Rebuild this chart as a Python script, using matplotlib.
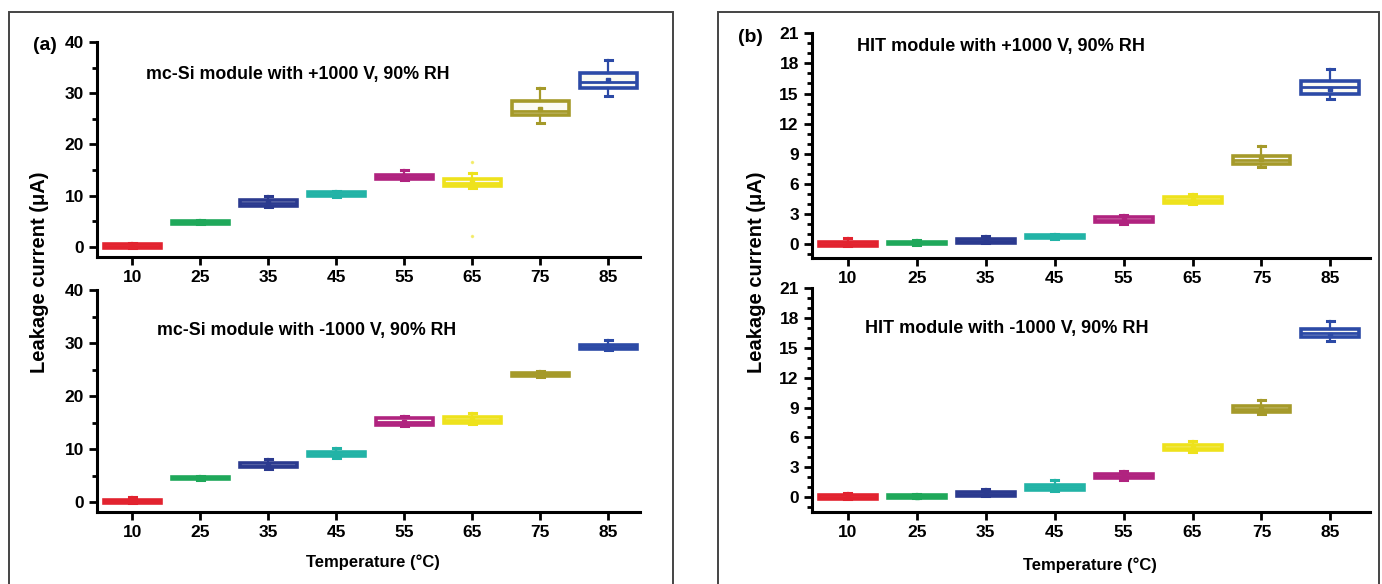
import numpy as np
import matplotlib.pyplot as plt
from matplotlib.patches import Rectangle
from matplotlib.ticker import MultipleLocator

plt.rcParams['font.family'] = ['Liberation Sans', 'DejaVu Sans']
plt.rcParams['font.weight'] = 'bold'

# temperature categories
temps = ['10', '25', '35', '45', '55', '65', '75', '85']
colors = ['#e2232f', '#1fa85a', '#2b3a8f', '#22b3a6', '#b0237f', '#eee21c', '#a59a2a', '#2c4aa6']

# (a) mc-Si, +1000 V
a_pos_q1 = [-0.2, 4.5, 8.0, 9.9, 13.2, 11.9, 25.8, 31.0]
a_pos_med = [0.2, 4.8, 8.6, 10.3, 13.6, 12.5, 26.5, 32.2]
a_pos_q3 = [0.5, 5.0, 9.2, 10.6, 14.0, 13.2, 28.5, 34.0]
a_pos_lo = [-0.3, 4.4, 7.8, 9.8, 13.0, 11.5, 24.2, 29.5]
a_pos_hi = [0.8, 5.2, 10.0, 10.9, 15.0, 14.5, 31.0, 36.5]
a_pos_mean = [0.2, 4.8, 8.7, 10.3, 13.8, 12.6, 27.0, 32.5]
a_pos_out = [[], [], [], [], [], [16.5, 2.0], [], []]

# (a) mc-Si, -1000 V
a_neg_q1 = [-0.1, 4.3, 6.6, 8.7, 14.6, 15.0, 23.8, 29.0]
a_neg_med = [0.2, 4.5, 6.9, 9.1, 15.1, 15.5, 24.1, 29.3]
a_neg_q3 = [0.4, 4.7, 7.3, 9.5, 15.9, 16.1, 24.4, 29.7]
a_neg_lo = [-0.2, 4.2, 6.3, 8.4, 14.3, 14.8, 23.6, 28.8]
a_neg_hi = [1.0, 5.0, 8.1, 10.2, 16.3, 16.9, 24.8, 30.6]
a_neg_mean = [0.3, 4.5, 7.0, 9.2, 15.2, 15.6, 24.1, 29.5]

# (b) HIT, +1000 V
b_pos_q1 = [-0.15, 0.0, 0.15, 0.6, 2.2, 4.1, 8.0, 15.0]
b_pos_med = [0.0, 0.1, 0.3, 0.75, 2.4, 4.4, 8.4, 15.6]
b_pos_q3 = [0.2, 0.25, 0.5, 0.9, 2.65, 4.7, 8.8, 16.2]
b_pos_lo = [-0.2, -0.1, 0.1, 0.5, 2.0, 4.0, 7.7, 14.5]
b_pos_hi = [0.6, 0.4, 0.8, 1.0, 2.9, 5.0, 9.8, 17.4]
b_pos_mean = [0.05, 0.1, 0.35, 0.75, 2.45, 4.4, 8.5, 15.4]

# (b) HIT, -1000 V
b_neg_q1 = [-0.15, -0.05, 0.15, 0.75, 1.9, 4.7, 8.6, 16.1]
b_neg_med = [0.0, 0.05, 0.3, 1.0, 2.1, 4.95, 8.9, 16.5]
b_neg_q3 = [0.2, 0.2, 0.5, 1.2, 2.35, 5.2, 9.2, 16.9]
b_neg_lo = [-0.2, -0.1, 0.1, 0.6, 1.7, 4.5, 8.3, 15.7]
b_neg_hi = [0.4, 0.3, 0.8, 1.7, 2.6, 5.6, 9.8, 17.7]
b_neg_mean = [0.05, 0.05, 0.35, 1.0, 2.1, 4.95, 8.9, 16.3]


def draw_boxes(ax, q1, med, q3, lo, hi, mean, out=None):
    for i in range(len(temps)):
        st = dict(q1=q1[i], med=med[i], q3=q3[i], whislo=lo[i], whishi=hi[i],
                  mean=mean[i], fliers=out[i] if out else [])
        c = colors[i]
        ax.bxp([st], positions=[i + 1], widths=0.84, patch_artist=True,
               showmeans=True, showfliers=True,
               boxprops=dict(facecolor='#fbfbf4', edgecolor=c, linewidth=2.6),
               medianprops=dict(color=c, linewidth=2.0),
               whiskerprops=dict(color=c, linewidth=1.6),
               capprops=dict(color=c, linewidth=2.2),
               capwidths=0.1,
               meanprops=dict(marker='s', markersize=3.5, markerfacecolor=c,
                              markeredgecolor=c),
               flierprops=dict(marker='.', markersize=3, markerfacecolor=c,
                               markeredgecolor=c, alpha=0.5))


def style_axes(ax, ymax, major, minor, xmax):
    ax.set_xlim(0.48, xmax)
    for s in ['top', 'right']:
        ax.spines[s].set_visible(False)
    for s in ['left', 'bottom']:
        ax.spines[s].set_linewidth(2.2)
    ax.set_xticks(range(1, len(temps) + 1))
    ax.set_xticklabels(temps)
    ax.set_yticks(np.arange(0, ymax + 0.1, major))
    ax.yaxis.set_minor_locator(MultipleLocator(minor))
    ax.tick_params(axis='both', which='major', direction='out', length=6, width=2,
                   labelsize=12.5)
    ax.tick_params(axis='y', which='minor', direction='out', length=3.5, width=2)
    ax.spines['left'].set_bounds(ax.get_ylim()[0], ymax)


fig = plt.figure(figsize=(13.82, 5.84), dpi=100)

# panel frames
fig.patches.append(Rectangle((9 / 1382, -0.01), 664 / 1382, 1 - 12 / 584 + 0.01,
                             transform=fig.transFigure, fill=False,
                             edgecolor='#444444', linewidth=1.4))
fig.patches.append(Rectangle((718 / 1382, -0.01), 661 / 1382, 1 - 12 / 584 + 0.01,
                             transform=fig.transFigure, fill=False,
                             edgecolor='#444444', linewidth=1.4))

ax1 = fig.add_axes([0.0702, 0.560, 0.393, 0.368])
ax2 = fig.add_axes([0.0702, 0.123, 0.393, 0.380])
ax3 = fig.add_axes([0.5876, 0.558, 0.404, 0.385])
ax4 = fig.add_axes([0.5876, 0.123, 0.404, 0.384])

draw_boxes(ax1, a_pos_q1, a_pos_med, a_pos_q3, a_pos_lo, a_pos_hi, a_pos_mean, a_pos_out)
draw_boxes(ax2, a_neg_q1, a_neg_med, a_neg_q3, a_neg_lo, a_neg_hi, a_neg_mean)
draw_boxes(ax3, b_pos_q1, b_pos_med, b_pos_q3, b_pos_lo, b_pos_hi, b_pos_mean)
draw_boxes(ax4, b_neg_q1, b_neg_med, b_neg_q3, b_neg_lo, b_neg_hi, b_neg_mean)

ax1.set_ylim(-2, 40)
ax2.set_ylim(-1.9, 40)
ax3.set_ylim(-1.4, 21)
ax4.set_ylim(-1.5, 21)
style_axes(ax1, 40, 10, 5, 8.47)
style_axes(ax2, 40, 10, 5, 8.47)
style_axes(ax3, 21, 3, 1, 8.58)
style_axes(ax4, 21, 3, 1, 8.58)

ax1.text(0.09, 0.83, 'mc-Si module with +1000 V, 90% RH', transform=ax1.transAxes,
         fontsize=12.8, fontweight='bold')
ax2.text(0.11, 0.80, 'mc-Si module with -1000 V, 90% RH', transform=ax2.transAxes,
         fontsize=12.8, fontweight='bold')
ax3.text(0.08, 0.92, 'HIT module with +1000 V, 90% RH', transform=ax3.transAxes,
         fontsize=13, fontweight='bold')
ax4.text(0.095, 0.80, 'HIT module with -1000 V, 90% RH', transform=ax4.transAxes,
         fontsize=13, fontweight='bold')

fig.text(45 / 1382, 1 - 45 / 584, '(a)', fontsize=14, fontweight='bold',
         ha='center', va='center')
fig.text(750 / 1382, 1 - 38 / 584, '(b)', fontsize=14, fontweight='bold',
         ha='center', va='center')

fig.text(40 / 1382, 1 - 272 / 584, 'Leakage current (μA)', rotation=90,
         fontsize=14.5, fontweight='bold', ha='center', va='center')
fig.text(757 / 1382, 1 - 272 / 584, 'Leakage current (μA)', rotation=90,
         fontsize=14.5, fontweight='bold', ha='center', va='center')

fig.text(373 / 1382, 1 - 562 / 584, 'Temperature (°C)', fontsize=12,
         fontweight='bold', ha='center', va='center')
fig.text(1090 / 1382, 1 - 565 / 584, 'Temperature (°C)', fontsize=12,
         fontweight='bold', ha='center', va='center')

fig.savefig('out.png', dpi=100)
